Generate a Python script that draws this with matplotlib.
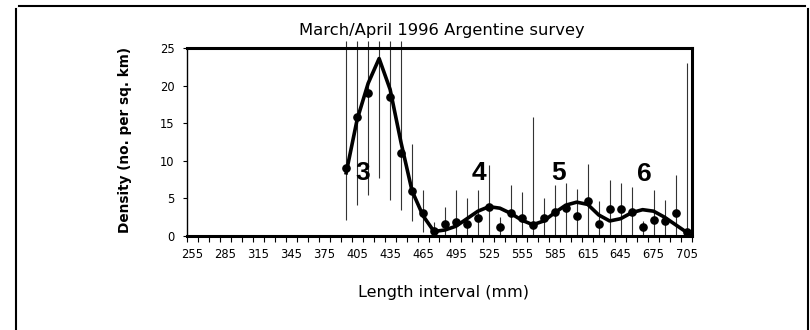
import numpy as np
import matplotlib
matplotlib.use("Agg")
import matplotlib.pyplot as plt
from matplotlib.lines import Line2D

# length classes (mm) and observed density
lengths = [395, 405, 415, 425, 435, 445, 455, 465, 475, 485, 495, 505, 515, 525, 535, 545,
           555, 565, 575, 585, 595, 605, 615, 625, 635, 645, 655, 665, 675, 685, 695, 705]
density = [9.1, 15.8, 19.0, 27.0, 18.5, 11.0, 6.0, 3.0, 0.6, 1.6, 1.8, 1.6, 2.4, 3.8, 1.2, 3.1,
           2.4, 1.5, 2.4, 3.2, 3.7, 2.7, 4.7, 1.6, 3.6, 3.6, 3.2, 1.2, 2.1, 2.0, 3.1, 0.5]
lower = [2.1, 4.1, 5.5, 7.7, 4.8, 3.5, 2.0, 0.5, 0.0, 0.0, 0.0, 0.0, 0.0, 0.0, 0.0, 0.0,
         0.0, 0.0, 0.0, 0.0, 0.0, 0.0, 0.0, 0.0, 0.0, 0.0, 0.0, 0.0, 0.0, 0.0, 0.0, 0.0]
upper = [25.9, 25.9, 25.9, 25.9, 25.9, 25.9, 12.3, 6.1, 1.9, 3.9, 6.1, 5.0, 6.1, 9.5, 2.5, 6.8,
         5.9, 15.8, 5.0, 6.8, 7.0, 6.3, 9.6, 4.6, 7.4, 7.1, 6.5, 2.0, 6.1, 4.8, 8.1, 23.0]
# fitted model curve
fitted = [8.4, 15.5, 20.3, 23.6, 19.5, 12.4, 6.0, 2.7, 0.6, 0.8, 1.3, 2.3, 3.3, 3.9, 3.7, 3.0,
          2.1, 1.5, 2.0, 3.1, 4.1, 4.5, 4.2, 2.8, 2.0, 2.3, 3.1, 3.5, 3.3, 2.5, 1.5, 0.5]

cohorts = ["3", "4", "5", "6"]
cohort_x = [410, 516, 588, 667]
cohort_y = [8.4, 8.4, 8.4, 8.3]

tick_pos = list(range(255, 706, 30))

fig = plt.figure(figsize=(8.1, 3.3), dpi=100)
ax = fig.add_axes([187/810, 1-236/330, 505/810, 188/330])

x = np.array(lengths)
d = np.array(density)
ax.vlines(x, lower, upper, colors="#333333", linewidth=0.8, clip_on=False, zorder=1)
ax.plot(x, fitted, color="black", linewidth=2.6, solid_joinstyle="round", zorder=3)
ax.plot(x, d, "o", color="black", markersize=5.2, zorder=4)

for lab, cx, cy in zip(cohorts, cohort_x, cohort_y):
    ax.text(cx, cy, lab, fontsize=19, fontweight="bold", family="Liberation Sans",
            ha="center", va="center", zorder=5)

ax.set_xlim(250, 710)
ax.set_ylim(0, 25)
ax.set_yticks([0, 5, 10, 15, 20, 25])
ax.set_xticks(tick_pos)
ax.set_xticks(range(250, 711, 10), minor=True)
ax.tick_params(axis="x", which="major", length=0, pad=9, labelsize=8.3)
ax.tick_params(axis="x", which="minor", length=4.5, direction="out", width=0.8)
ax.tick_params(axis="y", length=3, width=0.8, labelsize=8.3, pad=6)
for s in ["top", "right", "bottom"]:
    ax.spines[s].set_linewidth(2.2)
ax.spines["left"].set_linewidth(1.0)

fig.text(442/810, 1-31/330, "March/April 1996 Argentine survey", fontsize=11.8,
         ha="center", va="center")
fig.text(444/810, 1-293/330, "Length interval (mm)", fontsize=11.5,
         ha="center", va="center")
fig.text(125/810, 1-140/330, "Density (no. per sq. km)", fontsize=9.8, fontweight="bold",
         rotation=90, ha="center", va="center")

# outer frame
fig.add_artist(Line2D([19/810, 805/810], [1-6/330, 1-6/330], color="black", linewidth=1.5))
fig.add_artist(Line2D([16/810, 16/810], [1-9/330, 0], color="black", linewidth=1.5))
fig.add_artist(Line2D([808/810, 808/810], [1-9/330, 0], color="black", linewidth=1.5))

fig.savefig("out.png", dpi=100)
